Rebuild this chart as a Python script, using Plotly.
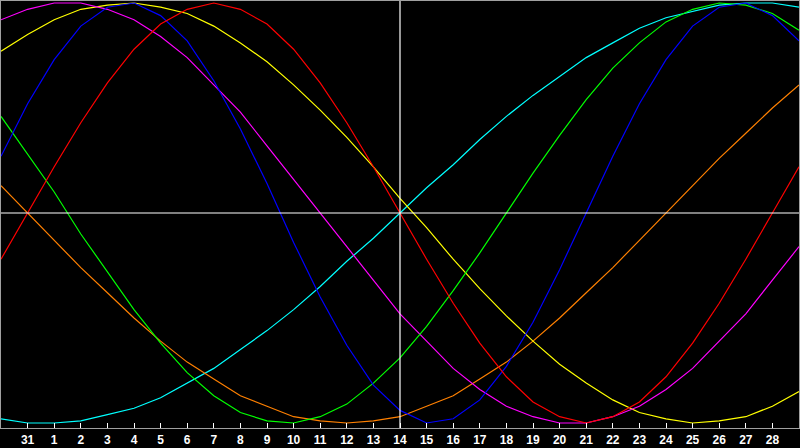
import plotly.graph_objects as go

# day index: 0 = 31 Jan, 1..28 = Feb, -1 and 29 are the edge days
days = list(range(-1, 30))
tick_days = list(range(0, 29))
tick_labels = ["31", "1", "2", "3", "4", "5", "6", "7", "8", "9", "10", "11", "12", "13", "14",
               "15", "16", "17", "18", "19", "20", "21", "22", "23", "24", "25", "26", "27", "28"]
today = 14

# cycle values in percent
physical = [27, 52, 73, 89, 98, 100, 94, 82, 63, 40, 14, -14, -40, -63, -82, -94, -100, -98, -89, -73,
            -52, -27, 0, 27, 52, 73, 89, 98, 100, 94, 82]
emotional = [-22, 0, 22, 43, 62, 78, 90, 97, 100, 97, 90, 78, 62, 43, 22, 0, -22, -43, -62, -78,
             -90, -97, -100, -97, -90, -78, -62, -43, -22, 0, 22]
intellectual = [46, 28, 10, -10, -28, -46, -62, -76, -87, -95, -99, -100, -97, -91, -81, -69, -54, -37, -19, 0,
                19, 37, 54, 69, 81, 91, 97, 100, 99, 95, 87]
intuitive = [92, 97, 100, 100, 97, 92, 84, 74, 61, 48, 32, 16, 0, -16, -32, -48, -61, -74, -84, -92,
             -97, -100, -100, -97, -92, -84, -74, -61, -48, -32, -16]
aesthetic = [77, 85, 92, 97, 99, 100, 98, 95, 89, 81, 72, 61, 49, 36, 22, 7, -7, -22, -36, -49,
             -61, -72, -81, -89, -95, -98, -100, -99, -97, -92, -85]
awareness = [13, 0, -13, -26, -38, -50, -61, -71, -79, -87, -92, -97, -99, -100, -99, -97, -92, -87, -79, -71,
             -61, -50, -38, -26, -13, 0, 13, 26, 38, 50, 61]
spiritual = [-98, -100, -100, -99, -96, -93, -88, -81, -74, -65, -56, -46, -35, -23, -12, 0, 12, 23, 35, 46,
             56, 65, 74, 81, 88, 93, 96, 99, 100, 100, 98]

fig = go.Figure()
for vals, col in [(spiritual, "#00ffff"), (awareness, "#ff8000"), (aesthetic, "#ffff00"),
                  (intuitive, "#ff00ff"), (intellectual, "#00ff00"), (physical, "#0000ff"),
                  (emotional, "#ff0000")]:
    fig.add_trace(go.Scatter(x=days, y=vals, mode="lines",
                             line=dict(color=col, width=1.2), showlegend=False, hoverinfo="skip"))

# crosshair on today / zero
fig.add_shape(type="line", xref="x", yref="paper", x0=today, x1=today, y0=0, y1=1,
              line=dict(color="white", width=1.2), layer="above")
fig.add_shape(type="line", xref="paper", yref="y", x0=0, x1=1, y0=0, y1=0,
              line=dict(color="white", width=1.2), layer="above")

fig.update_xaxes(range=[-1, 29], tickvals=tick_days, ticktext=tick_labels,
                 ticks="inside", ticklen=5, tickcolor="white", tickwidth=1,
                 tickfont=dict(family="Liberation Sans", size=12, color="white", weight="bold"),
                 ticklabelstandoff=1,
                 showgrid=False, zeroline=False, showline=True, linecolor="#a0a0a0",
                 linewidth=1, mirror=True)
fig.update_yaxes(range=[-102.38, 100.95], showticklabels=False, ticks="",
                 showgrid=False, zeroline=False, showline=True, linecolor="#a0a0a0",
                 linewidth=1, mirror=True)
fig.update_layout(width=800, height=448, paper_bgcolor="black", plot_bgcolor="black",
                  margin=dict(l=1, r=1, t=1, b=20))
fig.write_html("out.html", config={"displayModeBar": False},
               post_script="document.body.style.margin='0';document.body.style.overflow='hidden';")
